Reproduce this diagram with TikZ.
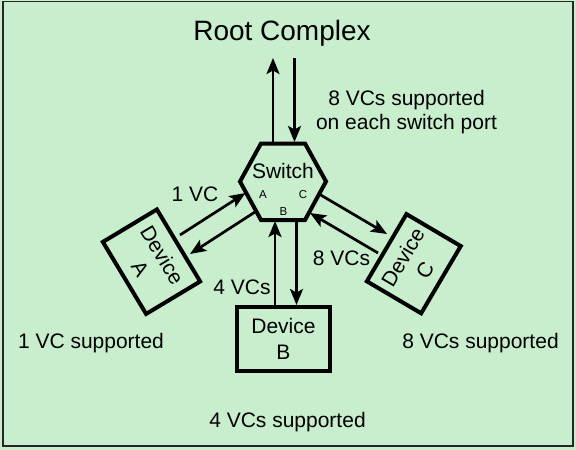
\documentclass[tikz,border=0pt]{standalone}
\usepackage{fontspec}
\setmainfont{Liberation Sans}
\usetikzlibrary{arrows.meta}
\definecolor{bg}{RGB}{200,238,206}
\begin{document}
\begin{tikzpicture}[x=1pt,y=-1pt,
  lbl/.style={font=\fontsize{21}{24}\selectfont, inner sep=0pt, anchor=base},
  port/.style={font=\fontsize{11.5}{13}\selectfont, inner sep=0pt, anchor=base},
  devbox/.style={draw, line width=4pt, inner sep=0pt, align=center, font=\fontsize{21}{25.5}\selectfont},
  link/.style={line width=2.7pt, -{Stealth[length=16pt,width=13pt,inset=3.5pt]}}]
\useasboundingbox (0,0) rectangle (576,450);
\fill[bg] (0,0) rectangle (576,450);
\draw[line width=1.5pt, black!85] (3,1.5) rectangle (573,446);

% title
\node[lbl, font=\fontsize{28}{30}\selectfont] (rc) at (282,40) {Root Complex};

% switch
\draw[line width=4pt, line join=miter] (261,143.5) -- (305,143.5) -- (326,181.5) -- (305,220) -- (261,220) -- (240,181.5) -- cycle;
\node[lbl] (sw) at (283,178) {Switch};
\node[port] (pa) at (263,198.3) {A};
\node[port] (pb) at (283.5,215) {B};
\node[port] (pc) at (303,198.3) {C};

% devices
\node[devbox, rotate=-59, minimum width=84pt, minimum height=63pt] (da) at (151.5,261.7) {Device\\A};
\node[devbox, minimum width=93pt, minimum height=64pt] (db) at (283.5,339) {Device\\B};
\node[devbox, rotate=59.5, minimum width=78pt, minimum height=63pt] (dc) at (413.8,263.7) {Device\\C};

% connector end points
\coordinate (rcU) at (273,58);
\coordinate (swU) at (273,143);
\coordinate (rcD) at (294.5,58);
\coordinate (swD) at (294.5,142);
\coordinate (daOut) at (180,235);
\coordinate (swAin) at (245.5,193);
\coordinate (swAout) at (255,212);
\coordinate (daIn) at (190,254);
\coordinate (swCout) at (319,194);
\coordinate (dcIn) at (387,234);
\coordinate (dcOut) at (378,253);
\coordinate (swCin) at (310,213);
\coordinate (dbOut) at (275,305);
\coordinate (swBin) at (275,221);
\coordinate (swBout) at (296.5,220);
\coordinate (dbIn) at (296.5,305);

\draw[link] (swU) -- (rcU);
\draw[link] (rcD) -- (swD);
\draw[link] (daOut) -- (swAin);
\draw[link] (swAout) -- (daIn);
\draw[link] (swCout) -- (dcIn);
\draw[link] (dcOut) -- (swCin);
\draw[link] (dbOut) -- (swBin);
\draw[link] (swBout) -- (dbIn);

% labels
\node[lbl, align=center, anchor=base] (sup) at (406.5,129) {8 VCs supported\\on each switch port};
\node[lbl] (l1) at (195,201.5) {1 VC};
\node[lbl] (l4) at (242,294) {4 VCs};
\node[lbl] (l8) at (341.5,265) {8 VCs};
\node[lbl] (s1) at (91,348.5) {1 VC supported};
\node[lbl] (s8) at (480.5,348.5) {8 VCs supported};
\node[lbl] (s4) at (287.5,427) {4 VCs supported};
\end{tikzpicture}
\end{document}
